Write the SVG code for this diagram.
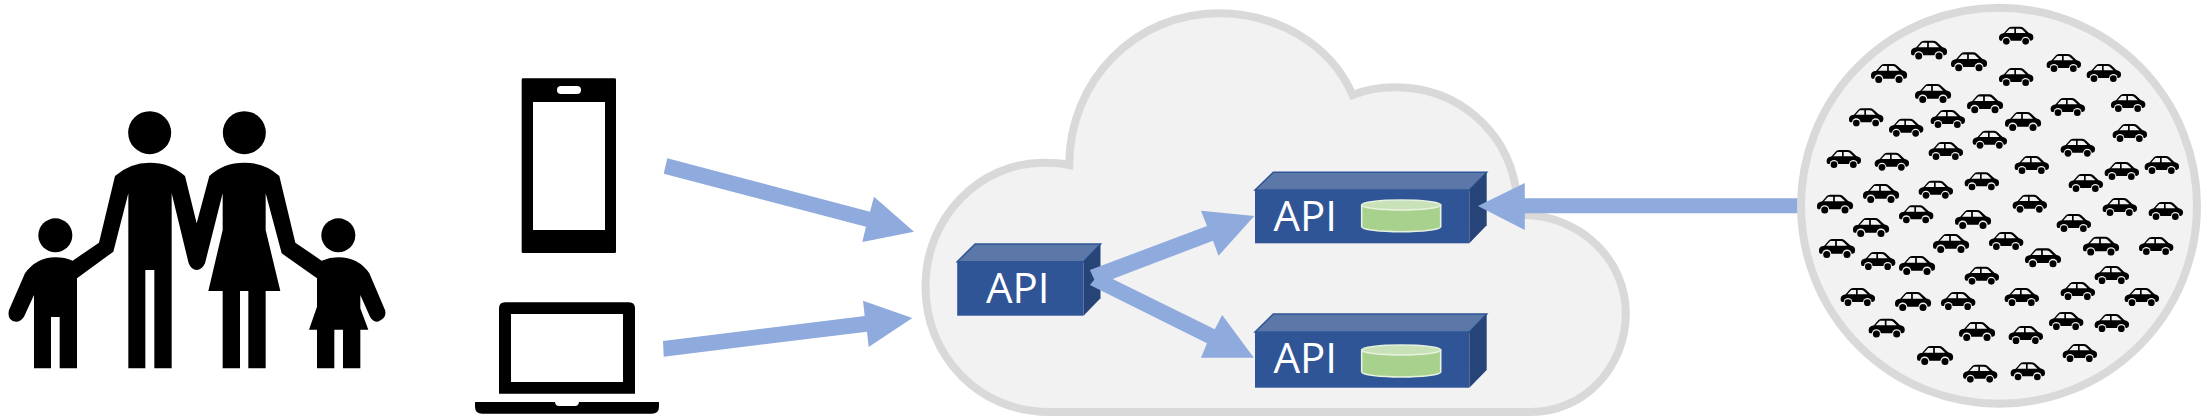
<svg xmlns="http://www.w3.org/2000/svg" xmlns:xlink="http://www.w3.org/1999/xlink" width="2207" height="419" viewBox="0 0 2207 419">
<style>
.front{fill:#2F5597}
.top{fill:#5B78A9;stroke:#2F5597;stroke-width:1.5}
.side{fill:#264478}
.api{font-family:"Open Sans","Noto Sans",sans-serif;font-weight:400;font-size:42px;fill:#fff}
.cyl{fill:#A9D18E;stroke:#E6F1DE;stroke-width:1.6}
.cyltop{fill:#C9E1B8;stroke:#E6F1DE;stroke-width:1.6}
.arrow{fill:#8FAADC}
.cloud{fill:#F2F2F2;stroke:#D9D9D9;stroke-width:8;stroke-miterlimit:10}
</style>
<defs>
<g id="car">
<path d="M1,35Q0,24 9,21L16,19L29,4Q33,0 40,0H64Q70,0 75,4L90,18L98,21Q105,24 104,34Q104,41 97,42H5Q1,41 1,35Z" fill="#000"/>
<path d="M21,19L33,6H47V19ZM52,6H64Q67,6 70,8L81,19H52Z" fill="#F2F2F2"/>
<circle cx="23" cy="43" r="13" fill="#F2F2F2"/><circle cx="81" cy="43" r="13" fill="#F2F2F2"/>
<circle cx="23" cy="44" r="10" fill="#000"/><circle cx="81" cy="44" r="10" fill="#000"/>
</g>
</defs>
<g id="family" transform="translate(0,90) scale(.33333)" fill="#000">
<circle cx="449" cy="128" r="64.5"/><circle cx="733" cy="128" r="64.5"/>
<circle cx="166" cy="436" r="51"/><circle cx="1015" cy="436" r="51"/>
<path d="M345,258Q390,218 449,218Q510,218 555,258L590,400L628,258Q670,218 733,218Q795,218 838,258L886,458L965,512Q990,502 1015,502Q1075,502 1108,550L1155,660Q1162,685 1133,695Q1118,695 1110,680L1081,615V655L1105,719H1081V835H1029V719H1003V835H951V719H927L951,650V565L845,490L797,310V420L841,603H797V835H745V603H720V835H668V603H625L668,420V310L615,520Q606,540 590,540Q574,540 566,520L515,310V835H463V540H436V835H385V310L340,485L231,565V835H179V681H153V835H102V615L72,680Q62,695 48,695Q20,692 27,660L75,550Q110,502 166,502Q195,502 218,512L297,458Z"/>
</g>
<g id="phone" transform="translate(460,60) scale(.33333)">
<rect x="185" y="55" width="283" height="524" rx="4" fill="#000"/>
<rect x="219" y="126" width="216" height="384" fill="#fff"/>
<rect x="291" y="78" width="72" height="24" rx="12" fill="#fff"/>
</g>
<g id="laptop" transform="translate(460,60) scale(.33333)">
<path d="M117,1001V745Q117,727 135,727H507Q525,727 525,745V1001Z" fill="#000"/>
<rect x="153" y="762" width="336" height="204" fill="#fff"/>
<path d="M45,1026H285Q286,1038 297,1038H345Q356,1038 357,1026H597V1040Q597,1061 575,1061H67Q45,1061 45,1040Z" fill="#000"/>
</g>
<g id="cloud">
<path class="cloud" d="M1048.6,412C979.7,412 925.5,356.7 925.5,286.7C925.5,216.7 979.7,162.7 1044,162.7C1053,162.7 1062,163.3 1069.2,165C1069.2,80 1135.8,13.3 1218.5,13.3C1278,13.3 1331,45 1352.6,95C1365.4,90 1379,87.3 1395.3,87.3C1457.3,87.3 1505.5,130 1515.6,186.7L1517,215H1526C1581,216.7 1625.8,260 1625.8,313.3C1625.8,368 1583.5,412 1530.7,412Z"/>
</g>
<g id="api-gateway">
<rect class="front" x="957.2" y="261.7" width="126.3" height="54"/>
<polygon class="top" points="957.2,261.7 975.1,244 1100.5,244 1083.5,261.7"/>
<polygon class="side" points="1083.5,261.7 1100.5,244 1100.5,298.3 1083.5,315.7"/>
<text class="api" x="986" y="302.7">API</text>
</g>
<g id="api-store-1">
<rect class="front" x="1255" y="190" width="214.3" height="53.3"/>
<polygon class="top" points="1255,190 1273.3,172.3 1486.7,172.3 1469.3,190"/>
<polygon class="side" points="1469.3,190 1486.7,172.3 1486.7,225.3 1469.3,243.3"/>
<text class="api" x="1273.5" y="231">API</text>
<path class="cyl" d="M1361.7,205V226.7A39.5,5 0 0 0 1440.7,226.7V205Z"/>
<ellipse class="cyltop" cx="1401.2" cy="205" rx="39.5" ry="5"/>
</g>
<g id="api-store-2">
<rect class="front" x="1255" y="332" width="214.3" height="55.7"/>
<polygon class="top" points="1255,332 1273.3,314 1486.7,314 1469.3,332"/>
<polygon class="side" points="1469.3,332 1486.7,314 1486.7,370 1469.3,387.7"/>
<text class="api" x="1273.5" y="373.3">API</text>
<path class="cyl" d="M1361.7,350V372A39.5,5 0 0 0 1440.7,372V350Z"/>
<ellipse class="cyltop" cx="1401.2" cy="350" rx="39.5" ry="5"/>
</g>
<g id="connectors">
<polygon class="arrow" points="667.3,158.3 663.7,173.7 866,226.7 862.3,242 914,231.7 874,196.7 870,211.7"/>
<polygon class="arrow" points="663,341 663.7,356.7 867,331.7 868.7,347 912.3,318 863,300.7 864.7,316"/>
<polygon class="arrow" points="1089.9,270 1207,226 1201,210.7 1254.3,216 1218.5,255.7 1213,240.7 1096.8,285"/>
<polygon class="arrow" points="1100,272.7 1214.8,329.3 1222.2,315 1253.8,357.7 1201,357.7 1207,343.3 1089.9,285"/>
<polygon class="arrow" points="1800,198.3 1524.8,198.3 1524.8,183 1477.9,206 1524.8,230 1524.8,213.3 1800,213.3"/>
</g>
<g id="vehicles">
<circle cx="1999" cy="205.8" r="198" fill="#F2F2F2" stroke="#D9D9D9" stroke-width="8"/>
<g transform="translate(1780,0) scale(.33333)">
<use xlink:href="#car" href="#car" x="656" y="80"/>
<use xlink:href="#car" href="#car" transform="translate(392,122) scale(1.05)"/>
<use xlink:href="#car" href="#car" transform="translate(512,157) scale(1.05)"/>
<use xlink:href="#car" href="#car" x="799" y="162"/>
<use xlink:href="#car" href="#car" transform="translate(272,192) scale(1.05)"/>
<use xlink:href="#car" href="#car" x="656" y="204"/>
<use xlink:href="#car" href="#car" x="919" y="192"/>
<use xlink:href="#car" href="#car" transform="translate(404,252) scale(1.05)"/>
<use xlink:href="#car" href="#car" transform="translate(560,283) scale(1.05)"/>
<use xlink:href="#car" href="#car" x="992" y="282"/>
<use xlink:href="#car" href="#car" x="811" y="294"/>
<use xlink:href="#car" href="#car" x="206" y="325"/>
<use xlink:href="#car" href="#car" x="451" y="330"/>
<use xlink:href="#car" href="#car" x="326" y="356"/>
<use xlink:href="#car" href="#car" transform="translate(674,336) scale(1.05)"/>
<use xlink:href="#car" href="#car" x="997" y="372"/>
<use xlink:href="#car" href="#car" x="577" y="392"/>
<use xlink:href="#car" href="#car" x="445" y="426"/>
<use xlink:href="#car" href="#car" x="841" y="416"/>
<use xlink:href="#car" href="#car" x="139" y="450"/>
<use xlink:href="#car" href="#car" x="283" y="458"/>
<use xlink:href="#car" href="#car" x="703" y="468"/>
<use xlink:href="#car" href="#car" x="1093" y="468"/>
<use xlink:href="#car" href="#car" x="973" y="486"/>
<use xlink:href="#car" href="#car" x="553" y="517"/>
<use xlink:href="#car" href="#car" x="865" y="522"/>
<use xlink:href="#car" href="#car" x="415" y="542"/>
<use xlink:href="#car" href="#car" transform="translate(248,552) scale(1.05)"/>
<use xlink:href="#car" href="#car" transform="translate(110,584) scale(1.05)"/>
<use xlink:href="#car" href="#car" x="697" y="584"/>
<use xlink:href="#car" href="#car" x="967" y="594"/>
<use xlink:href="#car" href="#car" x="1105" y="606"/>
<use xlink:href="#car" href="#car" x="356" y="616"/>
<use xlink:href="#car" href="#car" transform="translate(524,630) scale(1.05)"/>
<use xlink:href="#car" href="#car" x="829" y="642"/>
<use xlink:href="#car" href="#car" transform="translate(218,654) scale(1.05)"/>
<use xlink:href="#car" href="#car" transform="translate(116,717) scale(1.05)"/>
<use xlink:href="#car" href="#car" transform="translate(458,702) scale(1.05)"/>
<use xlink:href="#car" href="#car" x="626" y="696"/>
<use xlink:href="#car" href="#car" transform="translate(908,710) scale(1.05)"/>
<use xlink:href="#car" href="#car" x="1076" y="711"/>
<use xlink:href="#car" href="#car" transform="translate(734,745) scale(1.05)"/>
<use xlink:href="#car" href="#car" x="242" y="756"/>
<use xlink:href="#car" href="#car" transform="translate(356,768) scale(1.05)"/>
<use xlink:href="#car" href="#car" x="553" y="800"/>
<use xlink:href="#car" href="#car" x="943" y="798"/>
<use xlink:href="#car" href="#car" x="841" y="846"/>
<use xlink:href="#car" href="#car" x="181" y="864"/>
<use xlink:href="#car" href="#car" transform="translate(344,876) scale(1.05)"/>
<use xlink:href="#car" href="#car" x="482" y="876"/>
<use xlink:href="#car" href="#car" x="673" y="864"/>
<use xlink:href="#car" href="#car" x="1033" y="864"/>
<use xlink:href="#car" href="#car" x="806" y="936"/>
<use xlink:href="#car" href="#car" x="943" y="942"/>
<use xlink:href="#car" href="#car" transform="translate(265,956) scale(1.05)"/>
<use xlink:href="#car" href="#car" transform="translate(536,966) scale(1.05)"/>
<use xlink:href="#car" href="#car" x="685" y="978"/>
<use xlink:href="#car" href="#car" x="847" y="1032"/>
<use xlink:href="#car" href="#car" transform="translate(410,1038) scale(1.05)"/>
<use xlink:href="#car" href="#car" x="548" y="1094"/>
<use xlink:href="#car" href="#car" x="691" y="1087"/>
</g>
</g>
</svg>
